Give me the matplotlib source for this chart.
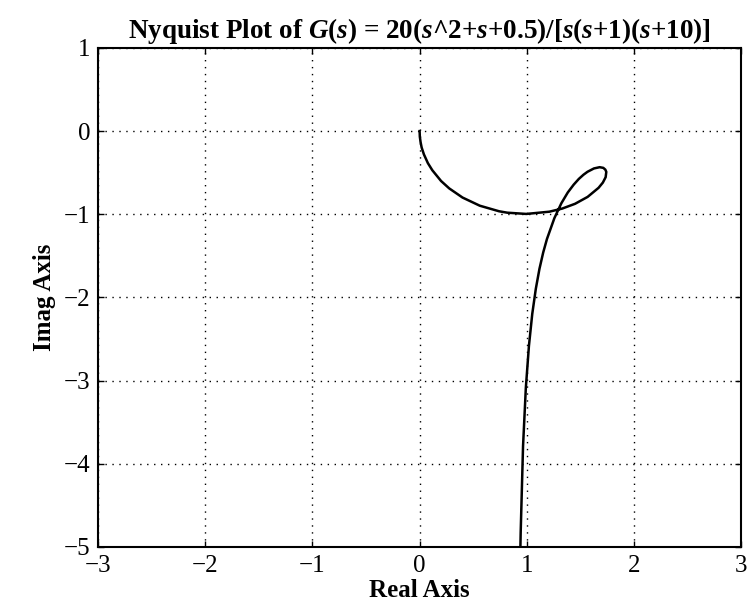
import numpy as np
import matplotlib
matplotlib.use('Agg')
import matplotlib.pyplot as plt

# Nyquist curve, low frequency (bottom) to high frequency (origin)
re_vals = [0.938, 0.942, 0.964, 0.990, 1.019, 1.050, 1.083, 1.117, 1.152, 1.187,
           1.256, 1.321, 1.381, 1.436, 1.484, 1.527, 1.565, 1.625, 1.678, 1.712,
           1.731, 1.740, 1.734, 1.708, 1.668, 1.566, 1.449, 1.328, 1.209, 0.995,
           0.817, 0.741, 0.561, 0.400, 0.276, 0.200, 0.118, 0.077, 0.040, 0.019,
           0.009, 0.002, 0.0]
im_vals = [-5.098, -4.826, -3.789, -3.088, -2.581, -2.197, -1.897, -1.656, -1.459, -1.297,
           -1.047, -0.868, -0.738, -0.644, -0.575, -0.525, -0.489, -0.449, -0.434, -0.442,
           -0.463, -0.490, -0.554, -0.619, -0.682, -0.791, -0.874, -0.932, -0.969, -0.996,
           -0.981, -0.964, -0.897, -0.799, -0.689, -0.600, -0.470, -0.385, -0.280, -0.198,
           -0.133, -0.067, 0.0]

x_ticks = [-3, -2, -1, 0, 1, 2, 3]
y_ticks = [-5, -4, -3, -2, -1, 0, 1]

plt.rcParams['font.family'] = ['Liberation Serif', 'DejaVu Serif']
plt.rcParams['mathtext.fontset'] = 'custom'
plt.rcParams['mathtext.rm'] = 'Liberation Serif:bold'
plt.rcParams['mathtext.it'] = 'Liberation Serif:italic:bold'
plt.rcParams['mathtext.bf'] = 'Liberation Serif:bold'

fig = plt.figure(figsize=(7.52, 6.02), dpi=100)
ax = fig.add_axes([0.130, 0.0914, 0.856, 0.829])

ax.plot(re_vals, im_vals, color='black', linewidth=1.8)

ax.set_xlim(-3, 3)
ax.set_ylim(-5, 1)
ax.set_xticks(x_ticks)
ax.set_yticks(y_ticks)
ax.set_xticklabels(['\u2212%d' % -v if v < 0 else '%d' % v for v in x_ticks])
ax.set_yticklabels(['\u2212%d' % -v if v < 0 else '%d' % v for v in y_ticks])
ax.tick_params(direction='in', length=4, width=1, labelsize=18, top=True, right=True)
ax.tick_params(axis='x', pad=6)
ax.tick_params(axis='y', pad=5)
ax.grid(True, color='black', linestyle=(0, (1, 4)), linewidth=1.0)
for sp in ax.spines.values():
    sp.set_linewidth(1.5)

ax.set_xlabel('Real Axis', fontsize=18, fontweight='bold', labelpad=1)
ax.set_ylabel('Imag Axis', fontsize=18, fontweight='bold', labelpad=6)
ax.set_title(r'Nyquist Plot of $G(s)$ = 20($s$^2+$s$+0.5)/[$s$($s$+1)($s$+10)]',
             fontsize=19.5, fontweight='bold', pad=7)

fig.savefig('out.png', dpi=100)
